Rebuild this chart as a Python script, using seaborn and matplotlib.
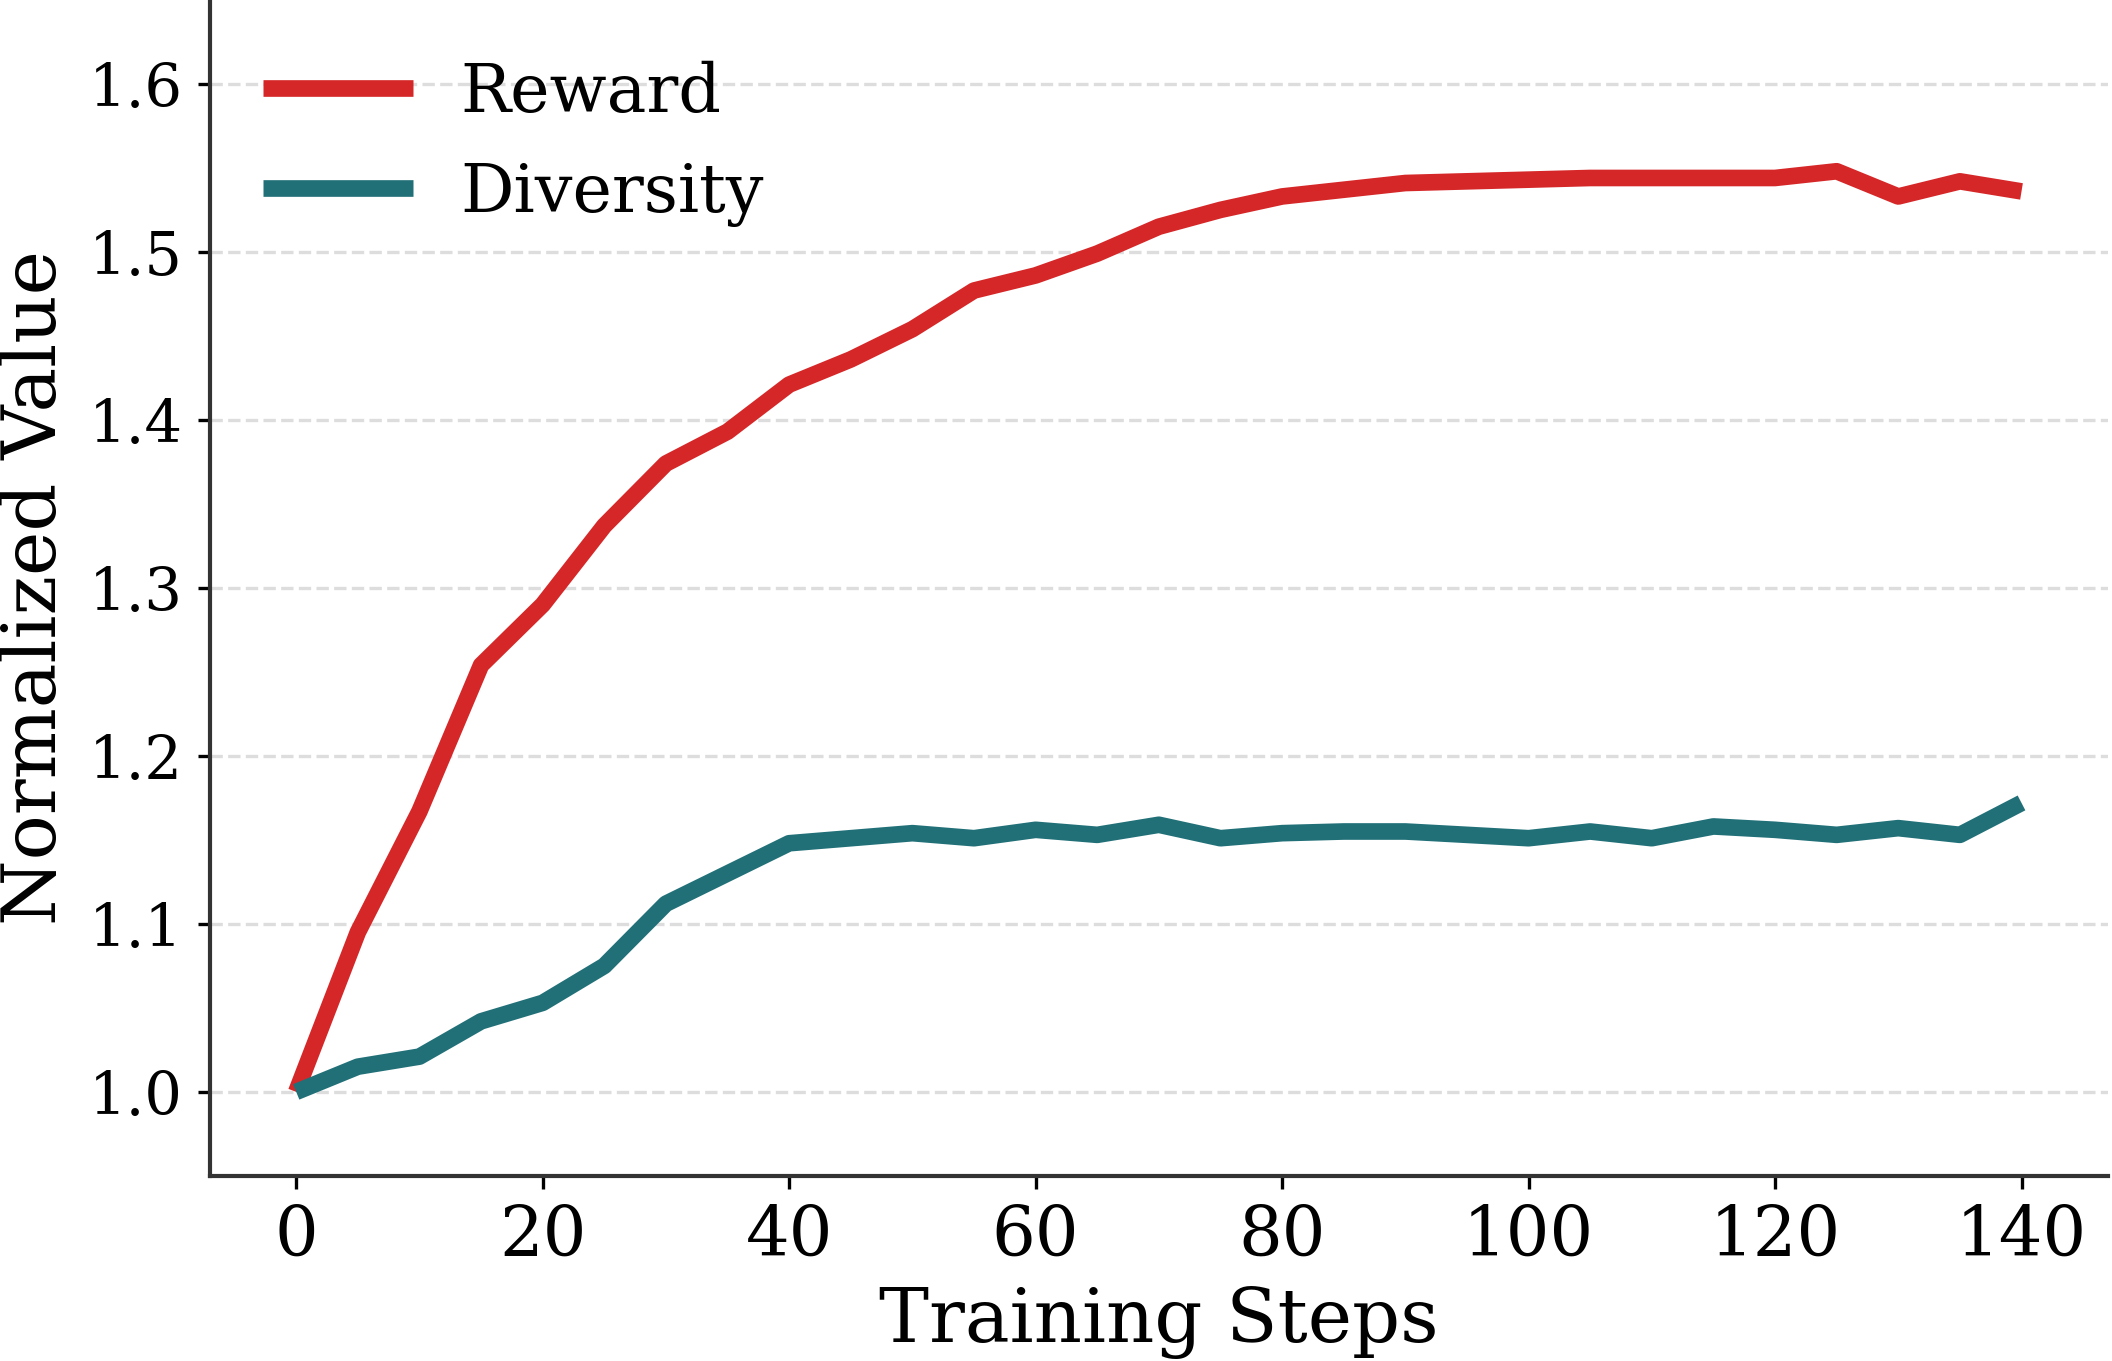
import numpy as np
import pandas as pd
import seaborn as sns
import matplotlib.pyplot as plt

steps = list(range(0, 145, 5))
reward = [1.000, 1.095, 1.167, 1.254, 1.290, 1.337, 1.374, 1.393, 1.421, 1.436,
          1.454, 1.477, 1.486, 1.499, 1.515, 1.525, 1.533, 1.537, 1.541, 1.542,
          1.543, 1.544, 1.544, 1.544, 1.544, 1.548, 1.533, 1.542, 1.536]
diversity = [1.000, 1.015, 1.021, 1.042, 1.053, 1.075, 1.112, 1.130, 1.148, 1.151,
             1.154, 1.151, 1.156, 1.153, 1.159, 1.151, 1.154, 1.155, 1.155, 1.153,
             1.151, 1.155, 1.151, 1.158, 1.156, 1.153, 1.157, 1.153, 1.172]

df = pd.DataFrame({"Training Steps": steps * 2,
                   "Normalized Value": reward + diversity,
                   "Metric": ["Reward"] * len(steps) + ["Diversity"] * len(steps)})

sns.set_style("ticks")
plt.rcParams['font.family'] = ['DejaVu Serif']
plt.rcParams['text.color'] = 'black'
plt.rcParams['axes.labelcolor'] = 'black'
plt.rcParams['xtick.color'] = 'black'
plt.rcParams['ytick.color'] = 'black'

fig, ax = plt.subplots(figsize=(7.04, 4.537), dpi=300)
fig.subplots_adjust(left=0.0994, right=0.998, bottom=0.136, top=1.0)

sns.lineplot(data=df, x="Training Steps", y="Normalized Value", hue="Metric",
             palette={"Reward": "#d62728", "Diversity": "#217078"},
             linewidth=4.0, solid_capstyle="butt", ax=ax)

ax.set_xlim(-7, 147)
ax.set_ylim(0.95, 1.65)
ax.set_yticks([1.0, 1.1, 1.2, 1.3, 1.4, 1.5, 1.6])
ax.set_xticks([0, 20, 40, 60, 80, 100, 120, 140])
ax.yaxis.grid(True, linestyle='--', color='#dddddd', linewidth=0.8)
ax.set_axisbelow(True)
sns.despine(ax=ax)
for s in ["left", "bottom"]:
    ax.spines[s].set_color("#333333")
    ax.spines[s].set_linewidth(1.0)
ax.tick_params(colors="black", length=3, width=0.8)
ax.tick_params(axis="y", labelsize=14.2)
ax.tick_params(axis="x", labelsize=16.5)
ax.set_xlabel("Training Steps", fontsize=18)
ax.set_ylabel("Normalized Value", fontsize=18)

leg = ax.legend(loc="upper left", bbox_to_anchor=(0, 0.994), frameon=False,
                fontsize=16, handlelength=2.25, handletextpad=0.7,
                borderaxespad=0.4, labelspacing=0.52)
for h in leg.get_lines():
    h.set_solid_capstyle("butt")
    h.set_linewidth(4.0)

fig.savefig("out.png", dpi=300)
